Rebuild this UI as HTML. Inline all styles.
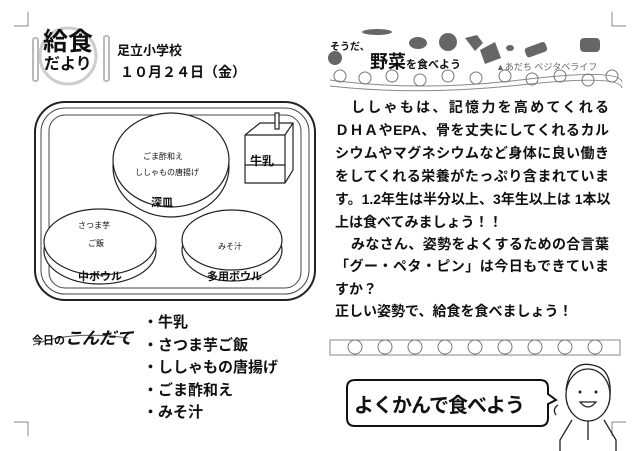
<!DOCTYPE html>
<html><head><meta charset="utf-8"><style>
body{margin:0;width:640px;height:451px;background:#fff;position:relative;overflow:hidden;font-family:"Liberation Sans","Noto Sans CJK JP",sans-serif;color:#111}
.a{position:absolute;white-space:nowrap}
.b{font-weight:bold}
.l{position:absolute;left:335px;width:274px;font-size:14px;font-weight:bold;line-height:18px;text-align:justify;text-align-last:justify;white-space:nowrap}
</style></head><body>
<svg class="a" style="left:0;top:0" width="640" height="451">
<g stroke="#888" fill="none" stroke-width="1">
<path d="M14 26H28V12"/><path d="M612 12V26H626"/><path d="M14 422H28V436"/><path d="M612 436V422H626"/>
</g>
<circle cx="68" cy="56" r="28" fill="none" stroke="#ccc" stroke-width="3"/>
<rect x="33" y="38" width="5" height="43" rx="2" fill="none" stroke="#bbb" stroke-width="2"/>
<rect x="104" y="36" width="5" height="45" rx="2" fill="none" stroke="#bbb" stroke-width="2"/>
<rect x="35" y="102" width="280" height="198" rx="30" fill="none" stroke="#222" stroke-width="2"/>
<rect x="41" y="108" width="268" height="186" rx="24" fill="none" stroke="#444" stroke-width="1"/>
<rect x="49" y="115" width="252" height="173" rx="16" fill="none" stroke="#444" stroke-width="1"/>
<g fill="#fff" stroke="#222" stroke-width="1.2">
<ellipse cx="171" cy="167" rx="58" ry="50"/>
<ellipse cx="171" cy="160" rx="58" ry="47"/>
<ellipse cx="100" cy="251" rx="56" ry="33"/>
<ellipse cx="100" cy="242" rx="56" ry="33"/>
<ellipse cx="232" cy="250" rx="50" ry="31"/>
<ellipse cx="232" cy="240" rx="50" ry="30"/>
<path d="M245 135L260 123H293V170L285 183H245Z"/>
<path d="M245 135H285V183M285 135L293 123"/>
<rect x="275" y="113" width="4" height="16"/>
<path d="M245 165H285"/>
</g>
<g fill="#666">
<ellipse cx="335" cy="58" rx="7" ry="7"/><ellipse cx="418" cy="43" rx="9" ry="6"/><ellipse cx="448" cy="42" rx="9" ry="9"/>
<path d="M465 38l12 -3 6 8-8 8z"/><path d="M480 50l15 -8 6 16-16 6z"/><ellipse cx="510" cy="48" rx="4" ry="3"/>
<rect x="525" y="45" width="22" height="10" rx="3" transform="rotate(-20 535 50)"/><rect x="580" y="38" width="20" height="14" rx="4"/>
<ellipse cx="377" cy="32" rx="15" ry="3"/>
</g>
<g stroke="#888" fill="none">
<path d="M330 80 Q420 92 520 80 T622 82"/><path d="M330 86 Q420 96 520 85 T622 88"/>
<path d="M330 340H620V355H330Z"/>
</g>
<g fill="none" stroke="#777">
<circle cx="340" cy="76" r="6"/><circle cx="365" cy="78" r="6"/><circle cx="392" cy="76" r="6"/><circle cx="420" cy="80" r="6"/><circle cx="448" cy="76" r="6"/><circle cx="476" cy="78" r="6"/><circle cx="505" cy="76" r="6"/><circle cx="532" cy="79" r="6"/><circle cx="560" cy="76" r="6"/><circle cx="588" cy="80" r="6"/><circle cx="612" cy="76" r="6"/>
<circle cx="355" cy="347" r="7"/><circle cx="385" cy="347" r="7"/><circle cx="415" cy="347" r="7"/><circle cx="445" cy="347" r="7"/><circle cx="475" cy="347" r="7"/><circle cx="505" cy="347" r="7"/><circle cx="535" cy="347" r="7"/><circle cx="565" cy="347" r="7"/><circle cx="595" cy="347" r="7"/>
</g>
<path d="M355 380H540Q548 380 548 388V394L556 400L548 404V418Q548 426 540 426H355Q347 426 347 418V388Q347 380 355 380Z" fill="#fff" stroke="#111" stroke-width="2"/>
<g fill="none" stroke="#222" stroke-width="1.3">
<ellipse cx="588" cy="395" rx="22" ry="26"/>
<path d="M566 390Q570 360 592 365Q612 368 610 395"/>
<path d="M572 420L560 440V451M604 420L616 440V451M588 421V440"/>
<path d="M580 402Q588 412 596 402Z"/>
<path d="M558 405q-6 4 -2 10"/>
</g>
<circle cx="580" cy="392" r="1.5" fill="#222"/><circle cx="596" cy="392" r="1.5" fill="#222"/>
<path d="M33 345Q70 330 128 338" stroke="#555" fill="none"/>
</svg>

<div class="a b" style="left:43px;top:29px;font-size:25px;line-height:27px">給食</div>
<div class="a b" style="left:44px;top:56px;font-size:16px;line-height:18px">だより</div>
<div class="a b" style="left:117px;top:40px;font-size:13px">足立小学校</div>
<div class="a b" style="left:120px;top:62px;font-size:14px">１０月２４日（金）</div>

<div class="a" style="left:143px;top:151px;font-size:8px">ごま酢和え</div>
<div class="a" style="left:135px;top:167px;font-size:8px">ししゃもの唐揚げ</div>
<div class="a b" style="left:151px;top:194px;font-size:11px">深皿</div>
<div class="a" style="left:78px;top:220px;font-size:8px">さつま芋</div>
<div class="a" style="left:88px;top:238px;font-size:8px">ご飯</div>
<div class="a" style="left:218px;top:241px;font-size:8px">みそ汁</div>
<div class="a b" style="left:78px;top:268px;font-size:11px">中ボウル</div>
<div class="a b" style="left:207px;top:268px;font-size:11px">多用ボウル</div>
<div class="a b" style="left:250px;top:152px;font-size:12px">牛乳</div>

<div class="a b" style="left:32px;top:324px;font-size:11px">今日の<span style="font-size:17px;font-style:italic">こんだて</span></div>
<div class="a b" style="left:143px;top:312px;font-size:15px;line-height:22.5px">・牛乳<br>・さつま芋ご飯<br>・ししゃもの唐揚げ<br>・ごま酢和え<br>・みそ汁</div>

<div class="a b" style="left:330px;top:38px;font-size:10px">そうだ、</div>
<div class="a b" style="left:370px;top:48px;font-size:18px">野菜<span style="font-size:11px">を食べよう</span></div>
<div class="a" style="left:496px;top:60px;font-size:9px;color:#666">▲あだち ベジタベライフ</div>

<div class="l" style="top:98px;padding-left:16px;width:258px">ししゃもは、記憶力を高めてくれる</div>
<div class="l" style="top:121px">ＤＨＡやEPA、骨を丈夫にしてくれるカル</div>
<div class="l" style="top:144px">シウムやマグネシウムなど身体に良い働き</div>
<div class="l" style="top:167px">をしてくれる栄養がたっぷり含まれていま</div>
<div class="l" style="top:190px">す。1.2年生は半分以上、3年生以上は 1本以</div>
<div class="l" style="top:213px;text-align-last:left">上は食べてみましょう！！</div>
<div class="l" style="top:235px;padding-left:16px;width:258px">みなさん、姿勢をよくするための合言葉</div>
<div class="l" style="top:257px">「グー・ペタ・ピン」は今日もできていま</div>
<div class="l" style="top:280px;text-align-last:left">すか？</div>
<div class="l" style="top:302px;text-align-last:left">正しい姿勢で、給食を食べましょう！</div>

<div class="a b" style="left:354px;top:389px;font-size:20px;letter-spacing:-1px">よくかんで食べよう</div>
</body></html>
